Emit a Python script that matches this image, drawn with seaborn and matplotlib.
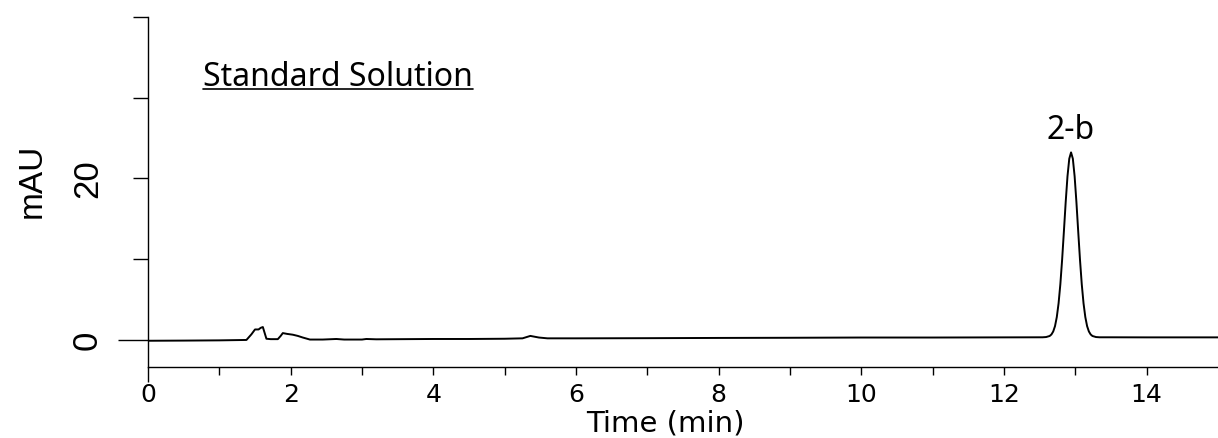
import numpy as np
import pandas as pd
import matplotlib
matplotlib.use("Agg")
import matplotlib.pyplot as plt
from matplotlib.lines import Line2D
import seaborn as sns

# --- chromatogram trace ---
time_min = [0.0, 0.5, 1.0, 1.38, 1.45, 1.50, 1.55, 1.58, 1.61, 1.66, 1.72, 1.82,
            1.86, 1.89, 1.95, 2.03, 2.10, 2.17, 2.27, 2.45, 2.64, 2.75, 3.0, 3.06,
            3.2, 3.6, 4.0, 4.5, 5.0, 5.25, 5.36, 5.48, 5.6, 6.0, 7.0, 8.0, 9.0,
            10.0, 11.0, 12.0, 12.54, 12.59, 12.64, 12.665, 12.69, 12.715, 12.74,
            12.765, 12.79, 12.815, 12.84, 12.865, 12.89, 12.915, 12.94, 12.965,
            12.99, 13.015, 13.04, 13.065, 13.09, 13.115, 13.14, 13.165, 13.19,
            13.215, 13.24, 13.29, 13.34, 13.5, 14.0, 14.5, 15.0]
mau = [-0.1, -0.08, -0.05, 0.0, 0.7, 1.3, 1.3, 1.5, 1.6, 0.15, 0.1, 0.1,
       0.5, 0.85, 0.75, 0.65, 0.5, 0.3, 0.05, 0.05, 0.12, 0.05, 0.05, 0.12,
       0.08, 0.1, 0.12, 0.12, 0.15, 0.2, 0.5, 0.3, 0.2, 0.2, 0.22, 0.25, 0.27,
       0.3, 0.3, 0.32, 0.33, 0.36, 0.49, 0.68, 1.05, 1.71, 2.83,
       4.53, 6.91, 9.97, 13.49, 17.10, 20.27, 22.45, 23.23, 22.45,
       20.27, 17.10, 13.49, 9.97, 6.91, 4.53, 2.83, 1.71, 1.05,
       0.68, 0.49, 0.36, 0.33, 0.33, 0.32, 0.32, 0.32]

peak_names = ["2-b"]
peak_times = [12.94]

x_major = [0, 2, 4, 6, 8, 10, 12, 14]
x_minor = [1, 3, 5, 7, 9, 11, 13]
y_ticks = [0, 10, 20, 30, 40]
y_ticklabels = ["0", "", "20", "", ""]

title_text = "Standard Solution"

df = pd.DataFrame({"Time (min)": time_min, "mAU": mau})

sns.set_style("ticks")
plt.rcParams.update({"text.color": "black", "axes.labelcolor": "black",
                     "xtick.color": "black", "ytick.color": "black",
                     "axes.edgecolor": "black"})
narrow = ["Liberation Sans", "DejaVu Sans"]

fig = plt.figure(figsize=(12.18, 4.38), dpi=100)
ax = fig.add_axes([148 / 1218, 71 / 438, 1070 / 1218, 350 / 438])

sns.lineplot(data=df, x="Time (min)", y="mAU", color="black", linewidth=1.4, ax=ax)

ax.set_xlim(0, 15)
ax.set_ylim(-3.35, 40)
sns.despine(ax=ax)
for s in ["left", "bottom"]:
    ax.spines[s].set_linewidth(1.0)

ax.set_xticks(x_major)
ax.set_xticks(x_minor, minor=True)
ax.set_xticklabels([str(v) for v in x_major], fontsize=18, family="DejaVu Sans")
ax.tick_params(axis="x", which="both", direction="out", length=5.8, width=1.0, pad=6)

ax.set_yticks(y_ticks)
ax.set_yticklabels(y_ticklabels, fontsize=25, family=narrow, rotation=90, va="center")
ax.tick_params(axis="y", direction="out", length=10.8, width=1.0, pad=21)
# the zero ticks are drawn longer
ax.yaxis.get_major_ticks()[0].tick1line.set_markersize(21.6)
ax.xaxis.get_major_ticks()[0].tick1line.set_markersize(10.8)

ax.set_xlabel("Time (min)", fontsize=21, family="DejaVu Sans", va="baseline")
ax.xaxis.set_label_coords(0.4837, -0.184)
ax.set_ylabel("mAU", fontsize=24, family=narrow)
ax.yaxis.set_label_coords(-0.094, 0.531)

# peak labels
for name, t in zip(peak_names, peak_times):
    v = df.loc[(df["Time (min)"] - t).abs().idxmin(), "mAU"]
    ax.annotate(name, (t, v), xytext=(0, 10), textcoords="offset points",
                ha="center", va="baseline", fontsize=23, family="Noto Sans")

# underlined sample title
txt = ax.text(0.77, 31.5, title_text, fontsize=23, family="Noto Sans",
              ha="left", va="baseline")
fig.canvas.draw()
bb = txt.get_window_extent().transformed(fig.transFigure.inverted())
y_base = ax.transData.transform((0, 31.5))
y_base = fig.transFigure.inverted().transform(y_base)[1]
fig.add_artist(Line2D([bb.x0, bb.x1], [y_base - 3 / 438] * 2, color="black",
                      linewidth=1.2, transform=fig.transFigure))

fig.savefig("out.png", dpi=100)
